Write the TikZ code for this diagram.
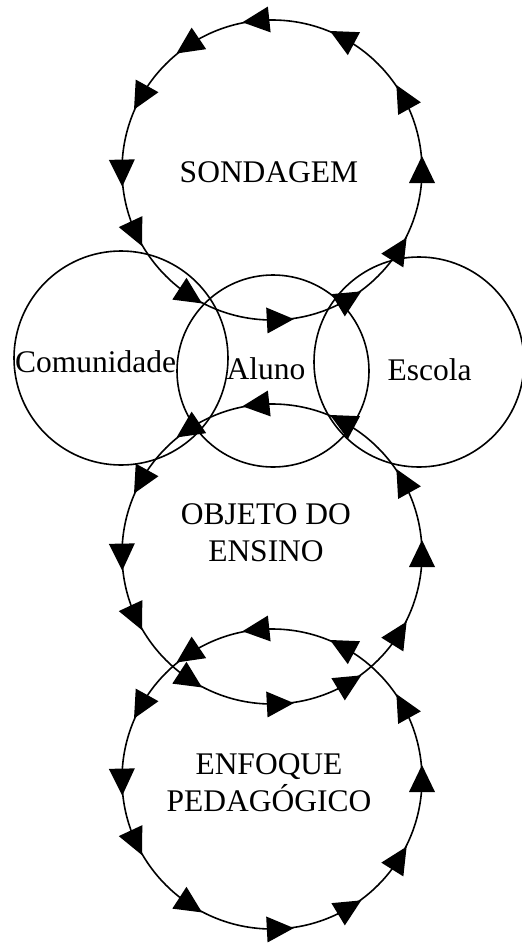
\documentclass[tikz,border=0pt]{standalone}
\usepackage{fontspec}
\setmainfont{Liberation Serif}
\usetikzlibrary{calc}
\tikzset{
  ring/.style={draw, circle, inner sep=0pt, line width=1.6pt},
  label/.style={font=\fontsize{31.5}{37}\selectfont, inner sep=0pt, anchor=base, align=center},
  head/.style={fill=black}
}
\newcommand\ccwheads[2]{%
  \foreach \a in {0,29,62,96,124,151,181,205,237,273,301,328}{%
    \fill[head, shift={($(#1.center)+(\a:#2)$)}, rotate=\a+90] (14,0) -- (-13,13) -- (-13,-13) -- cycle;
  }%
}
\begin{document}
\begin{tikzpicture}[x=1pt,y=1pt]
\useasboundingbox (0,0) rectangle (522,-943);
% big circles
\node[ring, minimum size=300pt] (S) at (272,-170) {};
\node[ring, minimum size=300pt] (O) at (272,-554) {};
\node[ring, minimum size=300pt] (E) at (272,-779) {};
% small circles
\node[ring, minimum size=214pt] (C) at (121,-358) {};
\node[ring, minimum size=192pt] (A) at (273,-371) {};
\node[ring, minimum size=210pt] (K) at (419,-362) {};
% arrow heads
\ccwheads{S}{150}
\ccwheads{O}{150}
\ccwheads{E}{150}
% labels
\node[label] (tS) at (269,-182) {SONDAGEM};
\node[label] (tC) at (95.5,-372) {Comunidade};
\node[label] (tA) at (266,-379) {Aluno};
\node[label] (tK) at (429.5,-380) {Escola};
\node[label] (tO) at (266,-561) {OBJETO DO\\ENSINO};
\node[label] (tE) at (269,-811) {ENFOQUE\\PEDAGÓGICO};
\end{tikzpicture}
\end{document}
